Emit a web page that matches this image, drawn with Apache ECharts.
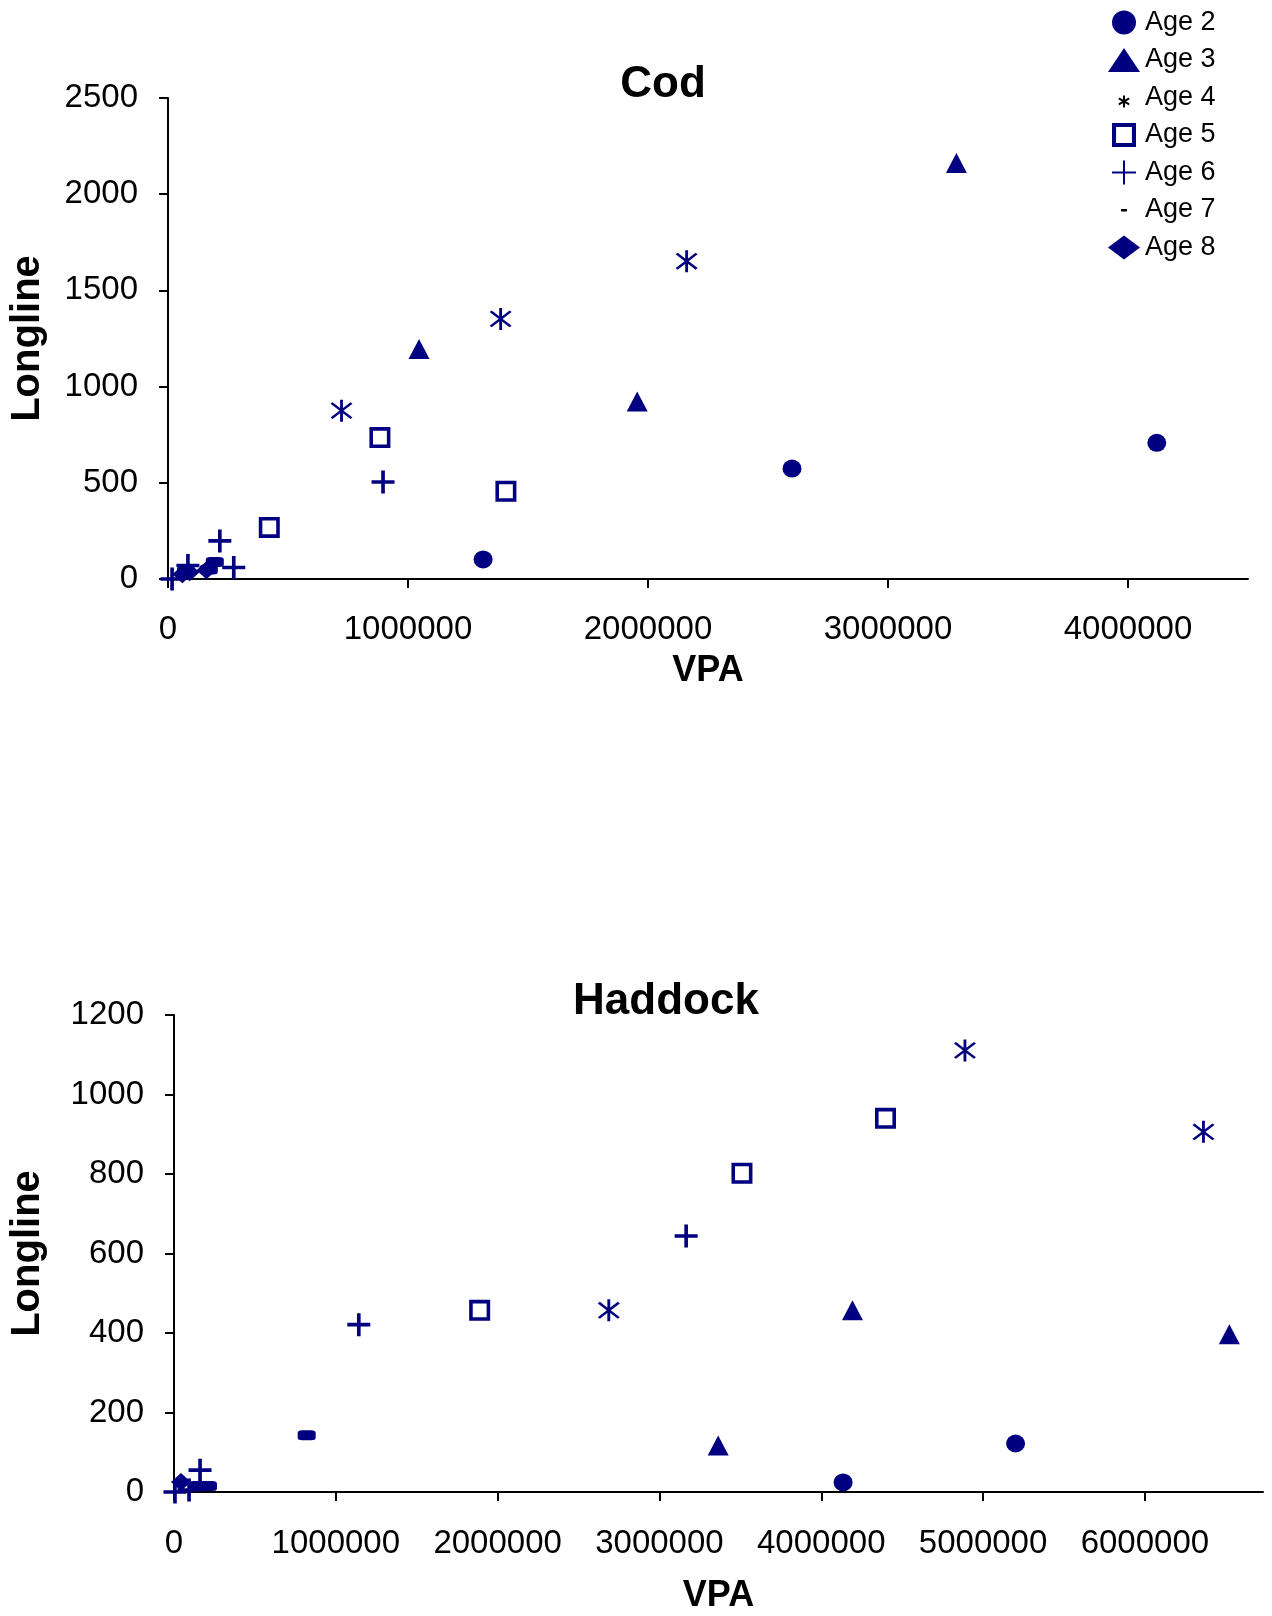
<!DOCTYPE html>
<html>
<head>
<meta charset="utf-8">
<script src="https://cdn.jsdelivr.net/npm/echarts@6/dist/echarts.min.js"></script>
<style>
html,body{margin:0;padding:0;background:#fff;}
#chart{width:1272px;height:1616px;}
</style>
</head>
<body>
<div id="chart"></div>
<script>
// ---- Data ----
var ageNames = ['Age 2','Age 3','Age 4','Age 5','Age 6','Age 7','Age 8'];

// Cod: [VPA, Longline]
var codAge2 = [[1313000,102],[2600000,574],[4120000,708]];
var codAge3 = [[1046000,1196],[1955000,923],[3285000,2162]];
var codAge4 = [[723000,875],[1386000,1352],[2161000,1652]];
var codAge5 = [[422000,268],[883000,735],[1408000,456]];
var codAge6 = [[17000,0],[83000,70],[216000,198],[274000,60],[896000,504]];
var codAge7 = [[195000,88],[75000,40],[170000,50]];
var codAge8 = [[60000,25],[160000,45],[90000,35]];

// Haddock: [VPA, Longline]
var hadAge2 = [[4135000,24],[5201000,122]];
var hadAge3 = [[3363000,117],[4193000,457],[6522000,397]];
var hadAge4 = [[2687000,457],[4888000,1111],[6362000,906]];
var hadAge5 = [[1889000,457],[3510000,802],[4397000,940]];
var hadAge6 = [[6000,0],[93000,5],[161000,55],[1142000,421],[3165000,644]];
var hadAge7 = [[820000,143],[150000,15],[210000,15]];
var hadAge8 = [[43000,25]];

var codXTicks = [0,1000000,2000000,3000000,4000000];
var hadXTicks = [0,1000000,2000000,3000000,4000000,5000000,6000000];
var codYTicks = [0,500,1000,1500,2000,2500];
var hadYTicks = [0,200,400,600,800,1000,1200];

// ---- Styles ----
var NAVY = '#000080';
var FONT = "'Liberation Sans', Arial, sans-serif";
var asteriskPath = 'path://M9 0 L11 0 L11 20 L9 20 Z M2.3 3.7 L3.7 2.3 L17.7 16.3 L16.3 17.7 Z M16.3 2.3 L17.7 3.7 L3.7 17.7 L2.3 16.3 Z';
var plusPath = 'path://M9.25 0 L12.75 0 L12.75 9.25 L22 9.25 L22 12.75 L12.75 12.75 L12.75 22 L9.25 22 L9.25 12.75 L0 12.75 L0 9.25 L9.25 9.25 Z';
var squarePath = 'path://M0 0 L20 0 L20 20 L0 20 Z M3.4 3.4 L3.4 16.6 L16.6 16.6 L16.6 3.4 Z';
// legend-only glyphs (padded so they appear small, like text glyphs)
var legendAsterisk = 'path://M0 0 L0 0.01 Z M24 24 L24 24.01 Z M11 10 L13 10 L13 22 L11 22 Z M7.3 12.13 L17.7 18.13 L16.7 19.87 L6.3 13.87 Z M6.3 18.13 L16.7 12.13 L17.7 13.87 L7.3 19.87 Z';
var legendDash = 'path://M0 0 L0 0.01 Z M24 24 L24 24.01 Z M9 11 L15 11 L15 13.4 L9 13.4 Z';
var legendPlus = 'path://M11 0 L13 0 L13 11 L24 11 L24 13 L13 13 L13 24 L11 24 L11 13 L0 13 L0 11 L11 11 Z';

var symbolDefs = {
  'Age 2': {symbol:'circle', size:[19,18]},
  'Age 3': {symbol:'triangle', size:[21,20]},
  'Age 4': {symbol:asteriskPath, size:[22,22]},
  'Age 5': {symbol:squarePath, size:[21,21]},
  'Age 6': {symbol:plusPath, size:[23,23]},
  'Age 7': {symbol:'roundRect', size:[18,10]},
  'Age 8': {symbol:'diamond', size:[20,18]}
};

var codSets = [codAge2,codAge3,codAge4,codAge5,codAge6,codAge7,codAge8];
var hadSets = [hadAge2,hadAge3,hadAge4,hadAge5,hadAge6,hadAge7,hadAge8];

var series = [];
function addSeries(sets, idx){
  sets.forEach(function(d,i){
    var n = ageNames[i];
    series.push({
      type:'scatter', name:n, xAxisIndex:idx, yAxisIndex:idx, data:d,
      symbol:symbolDefs[n].symbol, symbolSize:symbolDefs[n].size,
      itemStyle:{color:NAVY, opacity:1}, emphasis:{disabled:true}, z:5
    });
  });
}
addSeries(codSets,0);
addSeries(hadSets,1);

function plain(v){ return String(v); }
var axisLine = {show:true, onZero:false, lineStyle:{color:'#000', width:2}};
var axisTick = {show:true, length:9, lineStyle:{color:'#000', width:2}};
function xAxisDef(grid, max, ticks, gap, nameGap){
  return {
    type:'value', gridIndex:grid, min:0, max:max, interval:1000000,
    name:'VPA', nameLocation:'middle', nameGap:nameGap,
    nameTextStyle:{fontFamily:FONT, fontWeight:'bold', fontSize:36, color:'#000'},
    axisLine:axisLine,
    axisTick:Object.assign({customValues:ticks}, axisTick),
    axisLabel:{customValues:ticks, formatter:plain, margin:gap, fontFamily:FONT, fontSize:33, color:'#000'},
    splitLine:{show:false}
  };
}
function yAxisDef(grid, max, interval, ticks, nameGap){
  return {
    type:'value', gridIndex:grid, min:0, max:max, interval:interval,
    name:'Longline', nameLocation:'middle', nameGap:nameGap, nameRotate:90,
    nameTextStyle:{fontFamily:FONT, fontWeight:'bold', fontSize:40, color:'#000'},
    axisLine:axisLine,
    axisTick:Object.assign({customValues:ticks}, axisTick),
    axisLabel:{customValues:ticks, formatter:plain, margin:30, fontFamily:FONT, fontSize:33, color:'#000'},
    splitLine:{show:false}
  };
}

var legendData = ageNames.map(function(n){
  if (n === 'Age 4') return {name:n, icon:legendAsterisk, itemStyle:{color:'#000'}};
  if (n === 'Age 7') return {name:n, icon:legendDash, itemStyle:{color:'#000'}};
  if (n === 'Age 6') return {name:n, icon:legendPlus};
  return {name:n};
});

var option = {
  animation:false,
  backgroundColor:'#fff',
  grid:[
    {left:167, top:98, width:1081, height:481},
    {left:173, top:1015, width:1090, height:477}
  ],
  xAxis:[
    xAxisDef(0, 4500000, codXTicks, 34, 74),
    xAxisDef(1, 6730000, hadXTicks, 35, 86)
  ],
  yAxis:[
    yAxisDef(0, 2500, 500, codYTicks, 120),
    yAxisDef(1, 1200, 200, hadYTicks, 126)
  ],
  legend:{
    orient:'vertical', left:1103, top:4,
    itemWidth:32, itemHeight:24, itemGap:10.5,
    data:legendData,
    textStyle:{fontFamily:FONT, fontSize:27, color:'#000'},
    selectedMode:false
  },
  graphic:[
    {type:'text', x:663, y:85, style:{text:'Cod', x:0, y:0, textAlign:'center', textVerticalAlign:'middle', font:"bold 44px 'Liberation Sans', Arial, sans-serif", fill:'#000'}},
    {type:'text', x:666, y:1002, style:{text:'Haddock', x:0, y:0, textAlign:'center', textVerticalAlign:'middle', font:"bold 44px 'Liberation Sans', Arial, sans-serif", fill:'#000'}}
  ],
  series:series
};

var chart = echarts.init(document.getElementById('chart'), null, {renderer:'canvas'});
chart.setOption(option);
</script>
</body>
</html>
